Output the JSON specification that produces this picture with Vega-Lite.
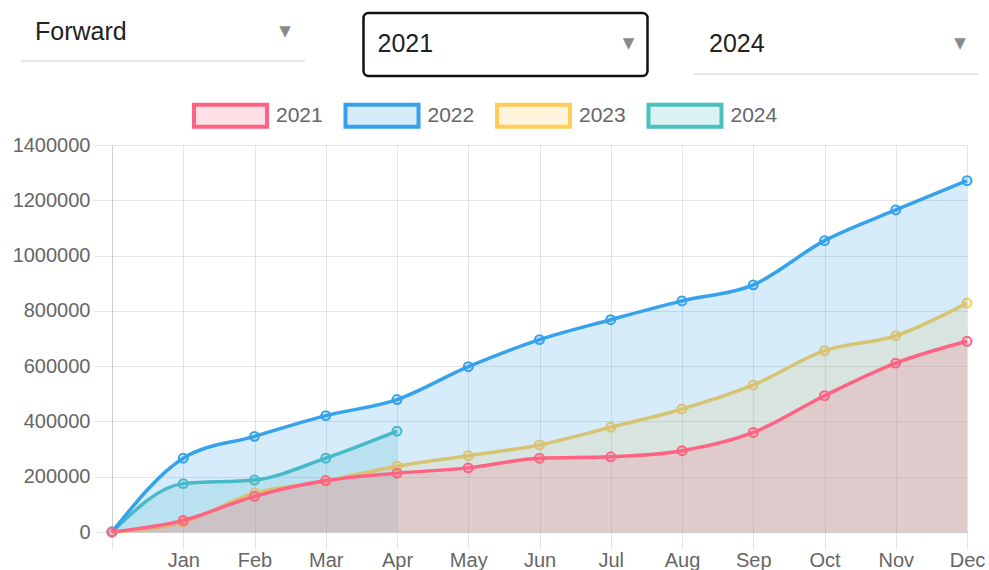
{
  "$schema": "https://vega.github.io/schema/vega-lite/v6.json",
  "padding": {"left": 12, "top": 11, "right": 0, "bottom": 0},
  "config": {
    "view": {"stroke": null},
    "font": "Liberation Sans",
    "axis": {
      "labelFont": "Liberation Sans",
      "labelFontSize": 20,
      "labelColor": "#666666",
      "gridColor": "rgba(0,0,0,0.1)",
      "gridOpacity": 1,
      "tickColor": "rgba(0,0,0,0.1)",
      "domainColor": "rgba(0,0,0,0.1)",
      "title": null
    }
  },
  "spacing": 57,
  "vconcat": [
    {
      "width": 855,
      "height": 63,
      "data": {"values": [
        {"slot": "a", "label": "Forward"},
        {"slot": "b", "label": "2021"},
        {"slot": "c", "label": "2024"}
      ]},
      "encoding": {
        "x": {"field": "slot", "type": "nominal", "axis": null,
              "scale": {"type": "band", "domain": ["a", "b", "c"], "range": [-91, 866], "paddingInner": 0.156, "paddingOuter": 0}}
      },
      "layer": [
        {"transform": [{"filter": "datum.slot == 'a'"}],
         "mark": {"type": "rule", "stroke": "#e6e6e6", "strokeWidth": 2, "yOffset": 16.5},
         "encoding": {"x": {"field": "slot", "type": "nominal", "bandPosition": 0}, "x2": {"field": "slot", "bandPosition": 1}}},
        {"transform": [{"filter": "datum.slot == 'c'"}],
         "mark": {"type": "rule", "stroke": "#e6e6e6", "strokeWidth": 2, "yOffset": 29.5},
         "encoding": {"x": {"field": "slot", "type": "nominal", "bandPosition": 0}, "x2": {"field": "slot", "bandPosition": 1}}},
        {"transform": [{"filter": "datum.slot == 'b'"}],
         "mark": {"type": "rect", "fill": "white", "stroke": "#111111", "strokeWidth": 2.5, "cornerRadius": 5, "xOffset": 6}},
        {"transform": [{"filter": "datum.slot == 'b'"}],
         "mark": {"type": "text", "align": "left", "baseline": "middle", "dx": 20, "dy": -1, "fontSize": 25, "font": "Liberation Sans", "color": "#222222"},
         "encoding": {"x": {"field": "slot", "type": "nominal", "bandPosition": 0}, "text": {"field": "label"}}},
        {"transform": [{"filter": "datum.slot == 'c'"}],
         "mark": {"type": "text", "align": "left", "baseline": "middle", "dx": 15, "dy": -1, "fontSize": 25, "font": "Liberation Sans", "color": "#222222"},
         "encoding": {"x": {"field": "slot", "type": "nominal", "bandPosition": 0}, "text": {"field": "label"}}},
        {"transform": [{"filter": "datum.slot == 'a'"}],
         "mark": {"type": "text", "align": "left", "baseline": "middle", "dx": 14, "dy": -13, "fontSize": 25, "font": "Liberation Sans", "color": "#222222"},
         "encoding": {"x": {"field": "slot", "type": "nominal", "bandPosition": 0}, "text": {"field": "label"}}},
        {"transform": [{"filter": "datum.slot == 'b'"}],
         "mark": {"type": "text", "align": "center", "baseline": "middle", "dx": -13, "dy": -2, "fontSize": 15, "font": "DejaVu Sans", "color": "#8a8a8a", "text": "▼"},
         "encoding": {"x": {"field": "slot", "type": "nominal", "bandPosition": 1}}},
        {"transform": [{"filter": "datum.slot == 'c'"}],
         "mark": {"type": "text", "align": "center", "baseline": "middle", "dx": -18, "dy": -2, "fontSize": 15, "font": "DejaVu Sans", "color": "#8a8a8a", "text": "▼"},
         "encoding": {"x": {"field": "slot", "type": "nominal", "bandPosition": 1}}},
        {"transform": [{"filter": "datum.slot == 'a'"}],
         "mark": {"type": "text", "align": "center", "baseline": "middle", "dx": -20, "dy": -14, "fontSize": 15, "font": "DejaVu Sans", "color": "#8a8a8a", "text": "▼"},
         "encoding": {"x": {"field": "slot", "type": "nominal", "bandPosition": 1}}}
      ]
    },
    {
      "width": 855,
      "height": 387,
      "data": {"values": [
        {"year": "2021", "month": "start", "value": 0},
        {"year": "2021", "month": "Jan", "value": 42000},
        {"year": "2021", "month": "Feb", "value": 129000},
        {"year": "2021", "month": "Mar", "value": 186000},
        {"year": "2021", "month": "Apr", "value": 213000},
        {"year": "2021", "month": "May", "value": 232000},
        {"year": "2021", "month": "Jun", "value": 267000},
        {"year": "2021", "month": "Jul", "value": 272000},
        {"year": "2021", "month": "Aug", "value": 294000},
        {"year": "2021", "month": "Sep", "value": 360000},
        {"year": "2021", "month": "Oct", "value": 493000},
        {"year": "2021", "month": "Nov", "value": 611000},
        {"year": "2021", "month": "Dec", "value": 690000},
        {"year": "2022", "month": "start", "value": 0},
        {"year": "2022", "month": "Jan", "value": 267000},
        {"year": "2022", "month": "Feb", "value": 346000},
        {"year": "2022", "month": "Mar", "value": 421000},
        {"year": "2022", "month": "Apr", "value": 479000},
        {"year": "2022", "month": "May", "value": 598000},
        {"year": "2022", "month": "Jun", "value": 696000},
        {"year": "2022", "month": "Jul", "value": 768000},
        {"year": "2022", "month": "Aug", "value": 836000},
        {"year": "2022", "month": "Sep", "value": 894000},
        {"year": "2022", "month": "Oct", "value": 1054000},
        {"year": "2022", "month": "Nov", "value": 1165000},
        {"year": "2022", "month": "Dec", "value": 1271000},
        {"year": "2023", "month": "start", "value": 0},
        {"year": "2023", "month": "Jan", "value": 36000},
        {"year": "2023", "month": "Feb", "value": 141000},
        {"year": "2023", "month": "Mar", "value": 184000},
        {"year": "2023", "month": "Apr", "value": 238000},
        {"year": "2023", "month": "May", "value": 276000},
        {"year": "2023", "month": "Jun", "value": 315000},
        {"year": "2023", "month": "Jul", "value": 379000},
        {"year": "2023", "month": "Aug", "value": 445000},
        {"year": "2023", "month": "Sep", "value": 532000},
        {"year": "2023", "month": "Oct", "value": 656000},
        {"year": "2023", "month": "Nov", "value": 710000},
        {"year": "2023", "month": "Dec", "value": 828000},
        {"year": "2024", "month": "start", "value": 0},
        {"year": "2024", "month": "Jan", "value": 175000},
        {"year": "2024", "month": "Feb", "value": 188000},
        {"year": "2024", "month": "Mar", "value": 267000},
        {"year": "2024", "month": "Apr", "value": 365000}
      ]},
      "encoding": {
        "x": {"field": "month", "type": "ordinal",
              "sort": ["start", "Jan", "Feb", "Mar", "Apr", "May", "Jun", "Jul", "Aug", "Sep", "Oct", "Nov", "Dec"],
              "scale": {"type": "point", "padding": 0},
              "axis": {"labelExpr": "datum.value == 'start' ? '' : datum.value", "labelAngle": 0, "grid": true, "tickSize": 17, "labelPadding": 1, "labelBaseline": "top"}},
        "y": {"field": "value", "type": "quantitative",
              "scale": {"domain": [0, 1400000], "nice": false},
              "axis": {"values": [0, 200000, 400000, 600000, 800000, 1000000, 1200000, 1400000], "format": "d", "grid": true, "tickSize": 18, "labelPadding": 4}}
      },
      "layer": [
        {"transform": [{"filter": "datum.year == '2024'"}],
         "layer": [
           {"mark": {"type": "area", "interpolate": "monotone"},
            "encoding": {"fill": {"field": "year", "type": "nominal", "scale": {"domain": ["2021", "2022", "2023", "2024"], "range": ["rgba(255,99,132,0.2)", "rgba(54,162,235,0.2)", "rgba(255,205,86,0.2)", "rgba(75,192,192,0.2)"]},
                                  "legend": {"title": null, "orient": "none", "legendX": 80, "legendY": 64, "direction": "horizontal", "symbolType": "M-1,-0.3L1,-0.3L1,0.3L-1,0.3Z", "symbolSize": 5329, "symbolStrokeWidth": 4, "labelFont": "Liberation Sans", "labelFontSize": 21, "labelColor": "#666666", "labelOffset": 7, "columnPadding": 14.5, "symbolOpacity": 1}}}},
           {"mark": {"type": "line", "interpolate": "monotone", "strokeWidth": 3.5},
            "encoding": {"stroke": {"field": "year", "type": "nominal", "scale": {"domain": ["2021", "2022", "2023", "2024"], "range": ["#ff6384", "#36a2eb", "#ffcd56", "#4bc0c0"]},
                                    "legend": {"title": null, "orient": "none", "legendX": 80, "legendY": 64, "direction": "horizontal", "symbolType": "M-1,-0.3L1,-0.3L1,0.3L-1,0.3Z", "symbolSize": 5329, "symbolStrokeWidth": 4, "labelFont": "Liberation Sans", "labelFontSize": 21, "labelColor": "#666666", "labelOffset": 7, "columnPadding": 14.5, "symbolOpacity": 1}}}},
           {"mark": {"type": "point", "filled": true, "size": 80, "strokeWidth": 2, "opacity": 1},
            "encoding": {"fill": {"field": "year", "type": "nominal"}, "stroke": {"field": "year", "type": "nominal"}}}
         ]},
        {"transform": [{"filter": "datum.year == '2023'"}],
         "layer": [
           {"mark": {"type": "area", "interpolate": "monotone"}, "encoding": {"fill": {"field": "year", "type": "nominal"}}},
           {"mark": {"type": "line", "interpolate": "monotone", "strokeWidth": 3.5}, "encoding": {"stroke": {"field": "year", "type": "nominal"}}},
           {"mark": {"type": "point", "filled": true, "size": 80, "strokeWidth": 2, "opacity": 1},
            "encoding": {"fill": {"field": "year", "type": "nominal"}, "stroke": {"field": "year", "type": "nominal"}}}
         ]},
        {"transform": [{"filter": "datum.year == '2022'"}],
         "layer": [
           {"mark": {"type": "area", "interpolate": "monotone"}, "encoding": {"fill": {"field": "year", "type": "nominal"}}},
           {"mark": {"type": "line", "interpolate": "monotone", "strokeWidth": 3.5}, "encoding": {"stroke": {"field": "year", "type": "nominal"}}},
           {"mark": {"type": "point", "filled": true, "size": 80, "strokeWidth": 2, "opacity": 1},
            "encoding": {"fill": {"field": "year", "type": "nominal"}, "stroke": {"field": "year", "type": "nominal"}}}
         ]},
        {"transform": [{"filter": "datum.year == '2021'"}],
         "layer": [
           {"mark": {"type": "area", "interpolate": "monotone"}, "encoding": {"fill": {"field": "year", "type": "nominal"}}},
           {"mark": {"type": "line", "interpolate": "monotone", "strokeWidth": 3.5}, "encoding": {"stroke": {"field": "year", "type": "nominal"}}},
           {"mark": {"type": "point", "filled": true, "size": 80, "strokeWidth": 2, "opacity": 1},
            "encoding": {"fill": {"field": "year", "type": "nominal"}, "stroke": {"field": "year", "type": "nominal"}}}
         ]}
      ]
    }
  ]
}
